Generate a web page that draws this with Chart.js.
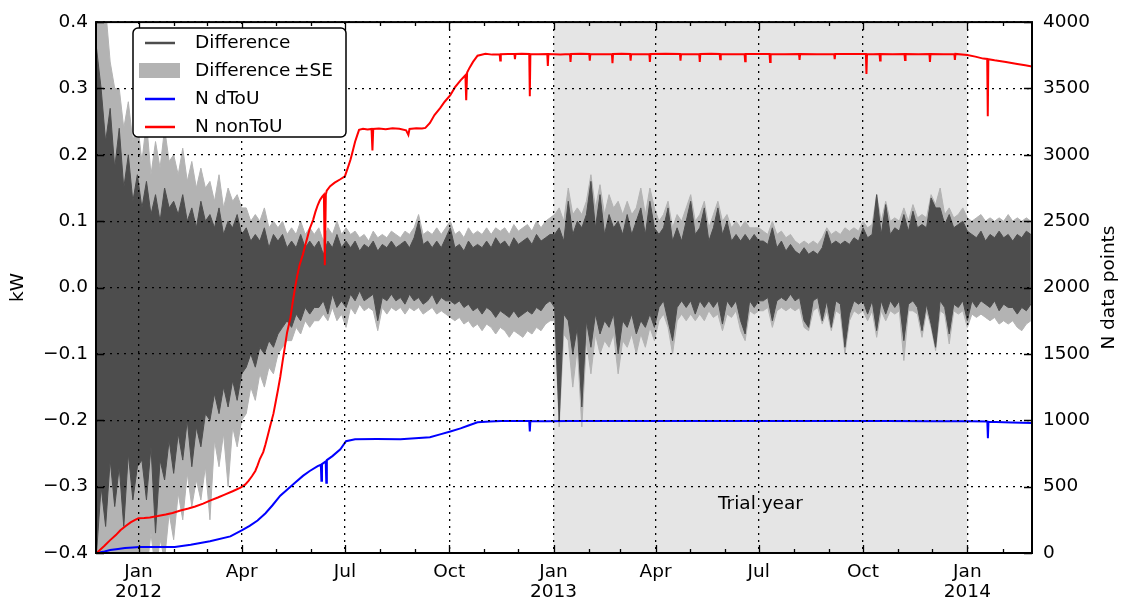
<!DOCTYPE html>
<html>
<head>
<meta charset="utf-8">
<title>Difference and N data points</title>
<script src="https://cdn.jsdelivr.net/npm/chart.js@4.4.1/dist/chart.umd.min.js"></script>
<style>
  html, body { margin: 0; padding: 0; background: #fff; }
</style>
</head>
<body>
<canvas id="chart" width="1121" height="608"></canvas>
<script>
// x values are days counted from 1 Jan 2012
const xMinDay = -37.5;
const xMaxDay = 788;
const trialStartDay = 366;   // 1 Jan 2013
const trialEndDay = 731;     // 1 Jan 2014

const monthTickDays = [0, 31, 60, 91, 121, 152, 182, 213, 244, 274, 305, 335,
    366, 397, 425, 456, 486, 517, 547, 578, 609, 639, 670, 700, 731, 762];
const quarterTickDays = [0, 91, 182, 274, 366, 456, 547, 639, 731];
const quarterTickLabels = [['Jan', '2012'], 'Apr', 'Jul', 'Oct', ['Jan', '2013'],
    'Apr', 'Jul', 'Oct', ['Jan', '2014']];

// Difference (kW): upper / lower extent every 4 days, and the ±SE band round it
const diffStartDay = -37;
const diffStepDays = 4;

const diffHi = [
    0.36, 0.30, 0.22, 0.27, 0.18,
    0.24, 0.15, 0.20, 0.13, 0.17,
    0.12, 0.16, 0.11, 0.14, 0.10, 0.15, 0.12, 0.13,
    0.11, 0.14, 0.10, 0.12, 0.09, 0.13, 0.10,
    0.11, 0.09, 0.12, 0.08, 0.10, 0.09, 0.11, 0.08,
    0.09, 0.07, 0.08, 0.07, 0.09, 0.06, 0.08, 0.07,
    0.08, 0.06, 0.07, 0.06, 0.08, 0.06, 0.07, 0.06,
    0.07, 0.05, 0.07, 0.06, 0.08, 0.06, 0.07,
    0.06, 0.07, 0.055, 0.065, 0.06, 0.07, 0.055, 0.065, 0.06, 0.07, 0.06, 0.065, 0.07, 0.06, 0.075, 0.10, 0.065, 0.07, 0.06, 0.07, 0.06, 0.075,
    0.09, 0.06, 0.065, 0.055, 0.07, 0.06, 0.065, 0.06, 0.07, 0.06, 0.075, 0.065, 0.07, 0.06, 0.075, 0.065, 0.07, 0.075, 0.065, 0.08, 0.07, 0.075, 0.08,
    0.08, 0.09, 0.07, 0.13, 0.08, 0.10, 0.09, 0.11, 0.16, 0.09, 0.14, 0.08, 0.11, 0.09, 0.10, 0.08, 0.11, 0.08, 0.10, 0.12, 0.08, 0.13, 0.09,
    0.08, 0.09, 0.12, 0.07, 0.09, 0.07, 0.10, 0.13, 0.08, 0.09, 0.12, 0.07, 0.09, 0.12, 0.08, 0.10, 0.07, 0.08, 0.07, 0.08, 0.07, 0.08, 0.07,
    0.07, 0.065, 0.09, 0.06, 0.07, 0.055, 0.065, 0.055, 0.05, 0.06, 0.05, 0.055, 0.05, 0.06, 0.085, 0.065, 0.07, 0.065, 0.07, 0.065, 0.075, 0.07, 0.09,
    0.075, 0.08, 0.14, 0.08, 0.125, 0.08, 0.09, 0.085, 0.11, 0.085, 0.115, 0.09, 0.095, 0.09, 0.135, 0.12, 0.12, 0.095, 0.11, 0.09, 0.095, 0.10, 0.085,
    0.08, 0.075, 0.085, 0.07, 0.08, 0.075, 0.085, 0.075, 0.08, 0.07, 0.08, 0.075, 0.085, 0.08
];

const diffLo = [
    -0.40, -0.30, -0.36, -0.26, -0.33,
    -0.27, -0.36, -0.25, -0.32, -0.27,
    -0.26, -0.32, -0.24, -0.37, -0.26, -0.29, -0.23, -0.28,
    -0.22, -0.26, -0.20, -0.27, -0.21, -0.24, -0.19,
    -0.20, -0.16, -0.19, -0.15, -0.18, -0.14, -0.17, -0.13,
    -0.12, -0.10, -0.12, -0.09, -0.10, -0.08, -0.09, -0.07,
    -0.06, -0.05, -0.06, -0.04, -0.05, -0.03, -0.04, -0.03,
    -0.03, -0.02, -0.04, -0.01, -0.03, -0.02, -0.03,
    -0.01, -0.02, -0.005, -0.02, -0.015, -0.01, -0.05, -0.015, -0.02, -0.01, -0.02, -0.015, -0.025, -0.01, -0.02, -0.015, -0.025, -0.02, -0.01, -0.025, -0.015, -0.02,
    -0.02, -0.025, -0.02, -0.03, -0.025, -0.035, -0.03, -0.04, -0.03, -0.035, -0.045, -0.035, -0.04, -0.045, -0.035, -0.045, -0.04, -0.035, -0.04, -0.03, -0.035, -0.025, -0.02,
    -0.03, -0.20, -0.04, -0.05, -0.10, -0.06, -0.18, -0.05, -0.09, -0.04, -0.07, -0.05, -0.06, -0.04, -0.10, -0.05, -0.06, -0.04, -0.07, -0.05, -0.06, -0.04, -0.06,
    -0.03, -0.02, -0.05, -0.08, -0.03, -0.02, -0.03, -0.02, -0.04, -0.02, -0.03, -0.02, -0.03, -0.02, -0.055, -0.02, -0.03, -0.02, -0.05, -0.07, -0.02, -0.03, -0.02,
    -0.02, -0.015, -0.05, -0.02, -0.015, -0.02, -0.01, -0.02, -0.015, -0.05, -0.06, -0.02, -0.015, -0.05, -0.02, -0.06, -0.02, -0.025, -0.09, -0.04, -0.02, -0.025, -0.02,
    -0.04, -0.02, -0.065, -0.02, -0.04, -0.02, -0.03, -0.02, -0.08, -0.025, -0.02, -0.03, -0.065, -0.025, -0.055, -0.09, -0.02, -0.03, -0.07, -0.025, -0.03, -0.02, -0.05,
    -0.02, -0.03, -0.02, -0.025, -0.03, -0.02, -0.035, -0.025, -0.03, -0.03, -0.04, -0.03, -0.035, -0.025
];

const seHi = [
    0.45, 0.45, 0.42, 0.34, 0.30,
    0.30, 0.24, 0.28, 0.22, 0.25,
    0.19, 0.25, 0.17, 0.22, 0.18, 0.24, 0.19, 0.20,
    0.17, 0.21, 0.16, 0.19, 0.15, 0.18, 0.15,
    0.16, 0.13, 0.17, 0.12, 0.15, 0.13, 0.14, 0.12,
    0.12, 0.10, 0.11, 0.10, 0.12, 0.09, 0.10, 0.09,
    0.10, 0.08, 0.09, 0.08, 0.10, 0.08, 0.09, 0.08,
    0.09, 0.07, 0.09, 0.08, 0.10, 0.08, 0.09,
    0.08, 0.085, 0.075, 0.08, 0.07, 0.085, 0.075, 0.08, 0.075, 0.085, 0.08, 0.075, 0.085, 0.08, 0.09, 0.11, 0.08, 0.085, 0.08, 0.09, 0.08, 0.09,
    0.10, 0.08, 0.085, 0.075, 0.09, 0.08, 0.085, 0.08, 0.09, 0.08, 0.09, 0.085, 0.09, 0.08, 0.095, 0.085, 0.09, 0.095, 0.085, 0.10, 0.09, 0.10, 0.105,
    0.11, 0.12, 0.10, 0.15, 0.11, 0.12, 0.11, 0.13, 0.17, 0.12, 0.155, 0.11, 0.14, 0.12, 0.13, 0.11, 0.13, 0.11, 0.12, 0.15, 0.11, 0.15, 0.12,
    0.10, 0.11, 0.13, 0.09, 0.11, 0.10, 0.12, 0.14, 0.10, 0.11, 0.13, 0.09, 0.11, 0.13, 0.10, 0.11, 0.09, 0.10, 0.09, 0.10, 0.09, 0.09, 0.09,
    0.085, 0.08, 0.10, 0.08, 0.085, 0.075, 0.08, 0.07, 0.065, 0.07, 0.065, 0.07, 0.065, 0.075, 0.09, 0.08, 0.085, 0.08, 0.09, 0.085, 0.09, 0.085, 0.10,
    0.09, 0.095, 0.14, 0.10, 0.13, 0.10, 0.105, 0.10, 0.12, 0.10, 0.125, 0.105, 0.11, 0.105, 0.14, 0.125, 0.15, 0.11, 0.12, 0.105, 0.11, 0.12, 0.105,
    0.10, 0.105, 0.11, 0.10, 0.105, 0.10, 0.105, 0.10, 0.11, 0.10, 0.105, 0.10, 0.105, 0.10
];

const seLo = [
    -0.45, -0.45, -0.45, -0.45, -0.45,
    -0.45, -0.42, -0.45, -0.41, -0.45,
    -0.40, -0.43, -0.37, -0.43, -0.38, -0.41, -0.34, -0.38,
    -0.31, -0.35, -0.28, -0.33, -0.29, -0.32, -0.27,
    -0.35, -0.23, -0.27, -0.22, -0.30, -0.21, -0.24, -0.20,
    -0.19, -0.15, -0.17, -0.13, -0.15, -0.12, -0.13, -0.10,
    -0.09, -0.08, -0.08, -0.06, -0.07, -0.05, -0.06, -0.05,
    -0.05, -0.04, -0.05, -0.03, -0.05, -0.04, -0.06,
    -0.03, -0.04, -0.025, -0.035, -0.03, -0.035, -0.065, -0.03, -0.04, -0.03, -0.035, -0.03, -0.04, -0.03, -0.035, -0.03, -0.04, -0.035, -0.03, -0.04, -0.035, -0.04,
    -0.045, -0.05, -0.045, -0.055, -0.05, -0.06, -0.055, -0.065, -0.055, -0.06, -0.07, -0.06, -0.065, -0.075, -0.065, -0.07, -0.075, -0.065, -0.07, -0.06, -0.065, -0.055, -0.05,
    -0.05, -0.21, -0.07, -0.08, -0.15, -0.09, -0.21, -0.08, -0.13, -0.07, -0.10, -0.08, -0.09, -0.07, -0.13, -0.08, -0.09, -0.07, -0.10, -0.07, -0.09, -0.06, -0.08,
    -0.05, -0.04, -0.06, -0.10, -0.05, -0.04, -0.05, -0.04, -0.05, -0.04, -0.05, -0.035, -0.045, -0.04, -0.065, -0.04, -0.045, -0.035, -0.065, -0.08, -0.035, -0.04, -0.035,
    -0.035, -0.03, -0.06, -0.035, -0.03, -0.035, -0.03, -0.035, -0.03, -0.06, -0.065, -0.035, -0.03, -0.055, -0.035, -0.065, -0.035, -0.04, -0.10, -0.05, -0.035, -0.04, -0.035,
    -0.05, -0.035, -0.075, -0.035, -0.05, -0.035, -0.04, -0.035, -0.11, -0.035, -0.035, -0.04, -0.075, -0.035, -0.06, -0.095, -0.035, -0.04, -0.085, -0.035, -0.04, -0.035, -0.06,
    -0.04, -0.045, -0.04, -0.045, -0.05, -0.045, -0.055, -0.05, -0.055, -0.05, -0.06, -0.065, -0.055, -0.05
];

// N dToU (right axis)
const dtouDays = [-37, -30, -25, -18, -12, -5, 1, 15, 32, 46, 63, 81, 91, 98, 105, 112, 118, 125,
    132, 138, 145, 151, 158, 160.8, 161.3, 161.8, 165.1, 165.6, 166.1, 171, 178, 183, 191, 210,
    231, 257, 266, 275, 284, 291, 299, 310, 320, 344.6, 345.1, 345.6, 360, 380, 400, 430, 470,
    500, 540, 580, 620, 660, 700, 731, 748.6, 749.1, 749.6, 770, 788];
const dtouCounts = [0, 12, 22, 30, 37, 42, 45, 45, 45, 62, 88, 125, 170, 205, 245, 300, 358, 432,
    484, 529, 581, 618, 655, 665, 544, 670, 690, 529, 700, 730, 782, 842, 857, 858,
    857, 872, 894, 916, 939, 961, 985, 991, 994, 994, 916, 994, 993, 995, 994, 994, 995,
    994, 994, 995, 994, 994, 993, 993, 990, 864, 988, 984, 980];

// N nonToU (right axis)
const nontouDays = [-37, -30, -25, -20, -16, -11, -7, -3, 0, 5, 10, 17, 24, 30, 37, 44, 50, 57,
    63, 70, 76, 83, 90, 94, 97, 100, 103, 105, 107, 110, 112, 114, 116, 119, 121, 123, 125,
    127, 129, 131, 134, 136, 138, 140, 142, 145, 147, 149, 151, 154, 156, 158, 160, 162,
    163.5, 164.3, 165.2, 166, 169, 173, 178, 182, 184.5, 187, 189, 191, 193, 194.5, 198, 202,
    205.5, 206.3, 207, 212, 218, 224, 230, 236, 238, 239, 245, 250, 253, 257, 261, 266, 270,
    275, 279, 284, 288.3, 289, 289.8, 292, 295, 299, 306, 312,
    318.5, 319, 319.5, 326, 331.5, 332, 332.5, 338, 344.6, 345.1, 345.6, 353, 360.5, 361, 361.5,
    372, 380.5, 381, 381.5, 390, 397.5, 398, 398.5, 408, 417.5, 418, 418.5, 426, 433.5, 434, 434.5,
    442, 450.5, 451, 451.5, 465, 477.5, 478, 478.5, 486, 494.5, 495, 495.5, 505, 512.5, 513, 513.5,
    524, 534.5, 535, 535.5, 546, 556.5, 557, 557.5, 570, 582.5, 583, 583.5, 598, 613.5, 614, 614.5,
    628, 641.5, 642, 642.5, 648, 653.5, 654, 654.5, 665, 675.5, 676, 676.5, 688, 697.5, 698, 698.5,
    710, 719.5, 720, 720.5, 731, 738, 745, 748.5, 749, 749.5, 755, 765, 775, 782, 788];
const nontouCounts = [0, 55, 97, 135, 171, 205, 231, 250, 261, 264, 268, 278, 290, 302, 320, 335, 350, 372,
    395, 418, 440, 465, 492, 515, 544, 578, 618, 660, 708, 760, 819, 885, 953, 1050, 1140, 1230, 1326,
    1440, 1549, 1660, 1773, 1890, 1996, 2090, 2168, 2250, 2317, 2380, 2443, 2510, 2570, 2620, 2659, 2685,
    2700, 2168, 2700, 2730, 2764, 2790, 2816, 2838, 2900, 2965, 3030, 3099, 3150, 3188, 3196, 3190,
    3195, 3032, 3195, 3198, 3192, 3200, 3196, 3185, 3150, 3195, 3200, 3198, 3203, 3240, 3300, 3352, 3400,
    3449, 3508, 3561, 3600, 3412, 3620, 3657, 3700, 3747, 3762, 3755,
    3758, 3710, 3758, 3760, 3760, 3720, 3760, 3762, 3760, 3441, 3760, 3758, 3760, 3670, 3760,
    3755, 3760, 3700, 3760, 3762, 3760, 3710, 3760, 3758, 3760, 3690, 3760, 3762, 3760, 3710, 3760,
    3758, 3760, 3700, 3760, 3762, 3760, 3710, 3760, 3758, 3760, 3700, 3760, 3762, 3760, 3720, 3760,
    3758, 3760, 3705, 3760, 3760, 3760, 3700, 3760, 3758, 3760, 3715, 3760, 3758, 3760, 3720, 3760,
    3760, 3760, 3610, 3760, 3758, 3760, 3710, 3760, 3758, 3760, 3715, 3760, 3758, 3760, 3700, 3760,
    3758, 3760, 3715, 3760, 3752, 3740, 3725, 3722, 3290, 3720, 3712, 3700, 3685, 3675, 3665];

const FONT = 'DejaVu Sans';
const TEXT_PX = 18.5;
const DARK = '#4d4d4d';
const LIGHT = '#b3b3b3';
const SHADE = '#e5e5e5';

Chart.defaults.font.family = FONT;
Chart.defaults.font.size = TEXT_PX;
Chart.defaults.color = '#000';

const diffDays = diffHi.map((_, i) => diffStartDay + i * diffStepDays);
const pts = (xs, ys) => ys.map((y, i) => ({ x: xs[i], y: y }));

function line(label, xs, ys, color, axis, fill) {
    return {
        label: label,
        data: pts(xs, ys),
        yAxisID: axis,
        borderColor: color,
        backgroundColor: color,
        borderWidth: axis === 'yN' ? 2 : 1,
        pointRadius: 0,
        tension: 0,
        fill: fill
    };
}

const datasets = [
    line('N nonToU', nontouDays, nontouCounts, '#ff0000', 'yN', false),
    line('N dToU', dtouDays, dtouCounts, '#0000ff', 'yN', false),
    line('Difference', diffDays, diffHi, DARK, 'y', '+1'),
    line('Difference low', diffDays, diffLo, DARK, 'y', false),
    line('Difference ±SE', diffDays, seHi, LIGHT, 'y', '+1'),
    line('Difference -SE', diffDays, seLo, LIGHT, 'y', false)
];

const legendItems = [
    { text: 'Difference', kind: 'line', color: DARK },
    { text: 'Difference\u2009\u00b1SE', kind: 'patch', color: LIGHT },
    { text: 'N dToU', kind: 'line', color: '#0000ff' },
    { text: 'N nonToU', kind: 'line', color: '#ff0000' }
];

function roundRectPath(ctx, x, y, w, h, r) {
    ctx.beginPath();
    ctx.moveTo(x + r, y);
    ctx.lineTo(x + w - r, y);
    ctx.arcTo(x + w, y, x + w, y + r, r);
    ctx.lineTo(x + w, y + h - r);
    ctx.arcTo(x + w, y + h, x + w - r, y + h, r);
    ctx.lineTo(x + r, y + h);
    ctx.arcTo(x, y + h, x, y + h - r, r);
    ctx.lineTo(x, y + r);
    ctx.arcTo(x, y, x + r, y, r);
    ctx.closePath();
}

// shaded trial year, frame, inward ticks, legend and right-hand title
const decorations = {
    id: 'decorations',
    beforeDatasetsDraw(chart) {
        const { ctx, chartArea: a, scales } = chart;
        const x0 = scales.x.getPixelForValue(trialStartDay);
        const x1 = scales.x.getPixelForValue(trialEndDay);
        ctx.save();
        ctx.fillStyle = SHADE;
        ctx.fillRect(x0, a.top, x1 - x0, a.bottom - a.top);
        ctx.restore();
    },
    afterDraw(chart) {
        const { ctx, chartArea: a, scales } = chart;
        ctx.save();

        // trial year caption
        const x0 = scales.x.getPixelForValue(trialStartDay);
        const x1 = scales.x.getPixelForValue(trialEndDay);
        ctx.font = TEXT_PX + 'px "' + FONT + '"';
        ctx.fillStyle = '#000';
        ctx.textAlign = 'center';
        ctx.textBaseline = 'middle';
        ctx.fillText('Trial year', (x0 + x1) / 2, 504);

        // tick marks pointing inwards
        ctx.strokeStyle = '#000';
        ctx.lineWidth = 1.3;
        ctx.beginPath();
        monthTickDays.forEach(d => {
            const px = Math.round(scales.x.getPixelForValue(d)) + 0.5;
            const len = quarterTickDays.includes(d) ? 8 : 4;
            ctx.moveTo(px, a.bottom); ctx.lineTo(px, a.bottom - len);
            ctx.moveTo(px, a.top); ctx.lineTo(px, a.top + len);
        });
        scales.y.ticks.forEach(t => {
            const py = Math.round(scales.y.getPixelForValue(t.value)) + 0.5;
            ctx.moveTo(a.left, py); ctx.lineTo(a.left + 8, py);
        });
        scales.yN.ticks.forEach(t => {
            const py = Math.round(scales.yN.getPixelForValue(t.value)) + 0.5;
            ctx.moveTo(a.right, py); ctx.lineTo(a.right - 8, py);
        });
        ctx.stroke();

        // frame
        ctx.lineWidth = 2;
        ctx.strokeRect(a.left, a.top, a.right - a.left, a.bottom - a.top);

        // right axis title, reading upwards
        ctx.save();
        ctx.translate(1109, (a.top + a.bottom) / 2);
        ctx.rotate(-Math.PI / 2);
        ctx.textAlign = 'center';
        ctx.textBaseline = 'middle';
        ctx.fillText('N data points', 0, 0);
        ctx.restore();

        // legend
        const bx = 133, by = 28, bw = 213, bh = 109;
        roundRectPath(ctx, bx, by, bw, bh, 5);
        ctx.fillStyle = '#fff';
        ctx.fill();
        ctx.lineWidth = 1.5;
        ctx.strokeStyle = '#000';
        ctx.stroke();
        const rowY = [43, 71, 99, 127];
        ctx.textAlign = 'left';
        ctx.textBaseline = 'middle';
        legendItems.forEach((item, i) => {
            const y = rowY[i];
            if (item.kind === 'patch') {
                ctx.fillStyle = item.color;
                ctx.fillRect(139, y - 8, 41, 15);
            } else {
                ctx.strokeStyle = item.color;
                ctx.lineWidth = 2.5;
                ctx.beginPath();
                ctx.moveTo(145, y);
                ctx.lineTo(175, y);
                ctx.stroke();
            }
            ctx.fillStyle = '#000';
            ctx.fillText(item.text, 195, y);
        });
        ctx.restore();
    }
};

const dotted = [2, 5];

new Chart(document.getElementById('chart').getContext('2d'), {
    type: 'line',
    data: { datasets: datasets },
    options: {
        responsive: false,
        animation: false,
        layout: { padding: { top: 16, left: 0, right: 0, bottom: 0 } },
        plugins: {
            legend: { display: false },
            tooltip: { enabled: false }
        },
        scales: {
            x: {
                type: 'linear',
                position: 'bottom',
                min: xMinDay,
                max: xMaxDay,
                afterBuildTicks: (scale) => {
                    scale.ticks = monthTickDays.map(v => ({ value: v }));
                },
                afterFit: (scale) => { scale.height = 55; },
                grid: {
                    z: 1,
                    drawTicks: false,
                    lineWidth: 1.3,
                    color: (c) => (c.tick && quarterTickDays.includes(c.tick.value)) ? '#000' : 'rgba(0,0,0,0)'
                },
                border: { display: false, dash: dotted },
                ticks: {
                    autoSkip: false,
                    maxRotation: 0,
                    padding: 9,
                    font: { size: TEXT_PX, lineHeight: 1.08 },
                    callback: (v) => {
                        const i = quarterTickDays.indexOf(v);
                        return i >= 0 ? quarterTickLabels[i] : '';
                    }
                }
            },
            y: {
                position: 'left',
                min: -0.4,
                max: 0.4,
                afterFit: (scale) => { scale.width = 96; },
                grid: { z: 1, drawTicks: false, lineWidth: 1.3, color: '#000' },
                border: { display: false, dash: dotted },
                ticks: {
                    stepSize: 0.1,
                    padding: 8,
                    callback: (v) => (Math.abs(v) < 1e-9 ? '0.0' : v.toFixed(1)).replace('-', '\u2212')
                },
                title: { display: true, text: 'kW', padding: { top: 7, bottom: 0 } }
            },
            yN: {
                position: 'right',
                min: 0,
                max: 4000,
                afterFit: (scale) => { scale.width = 89; },
                grid: { display: false, drawTicks: false },
                border: { display: false },
                ticks: { stepSize: 500, padding: 11, callback: (v) => String(v) }
            }
        }
    },
    plugins: [decorations]
});
</script>
</body>
</html>
